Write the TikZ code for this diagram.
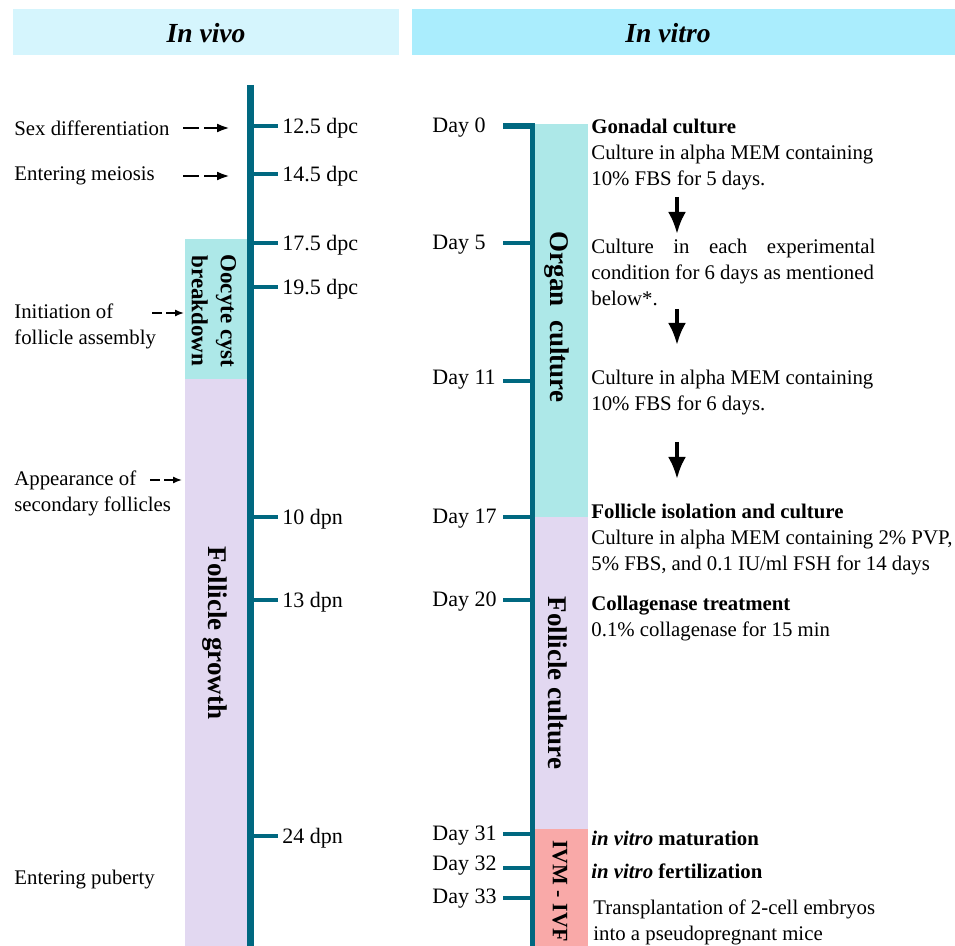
\documentclass[tikz,border=0pt]{standalone}
\usepackage{fontspec}
\setmainfont{Liberation Serif}
\usetikzlibrary{arrows.meta}
\definecolor{axisteal}{RGB}{0,104,128}
\definecolor{hdrvivo}{RGB}{213,245,253}
\definecolor{hdrvitro}{RGB}{170,237,253}
\definecolor{barcyan}{RGB}{173,232,232}
\definecolor{barlav}{RGB}{226,216,241}
\definecolor{barpink}{RGB}{249,169,168}

\begin{document}
\begin{tikzpicture}[x=0.5pt, y=-0.5pt,
    every node/.style={font=\fontsize{10.4}{13}\selectfont, inner sep=0pt, yshift=-1pt},
    marklabel/.style={anchor=west, font=\fontsize{11}{13}\selectfont},
    hdr/.style={font=\fontsize{13.8}{16}\selectfont\bfseries\itshape},
    barlabel/.style={rotate=-90, font=\fontsize{13.5}{16}\selectfont\bfseries},
    smallbar/.style={rotate=-90, align=center, font=\fontsize{11.5}{14.5}\selectfont\bfseries},
    axisline/.style={axisteal, line width=3.6pt},
    raxisline/.style={axisteal, line width=2.6pt, line join=miter},
    tickline/.style={axisteal, line width=2.4pt},
    bigdash/.style={line width=1.3pt, dash pattern=on 8pt off 2.5pt, -{Latex[length=6.5pt, width=4.5pt]}},
    smalldash/.style={line width=0.7pt, dash pattern=on 5pt off 2pt, -{Latex[length=4.5pt, width=3.5pt]}},
    downarrow/.style={line width=2pt, -{Latex[length=11pt, width=9pt]}}]
  \useasboundingbox (0,0) rectangle (955,946);

  % headers
  \fill[hdrvivo] (13,9) rectangle (399,55);
  \fill[hdrvitro] (412,9) rectangle (955,55);
  \node[hdr] (vivo) at (206,31) {In vivo};
  \node[hdr] (vitro) at (668,31) {In vitro};

  % in vivo bars and axis
  \fill[barcyan] (185,239) rectangle (247,379);
  \fill[barlav] (185,379) rectangle (247,946);
  \node[smallbar] (cyst) at (214,309) {Oocyte cyst\\breakdown};
  \node[barlabel] (growth) at (215,631) {Follicle growth};
  \draw[axisline] (250.5,85) -- (250.5,946);

  \node[marklabel, inner sep=2pt] (dpc125) at (278,126) {12.5 dpc};
  \node[marklabel, inner sep=2pt] (dpc145) at (278,174) {14.5 dpc};
  \node[marklabel, inner sep=2pt] (dpc175) at (278,243) {17.5 dpc};
  \node[marklabel, inner sep=2pt] (dpc195) at (278,287) {19.5 dpc};
  \node[marklabel, inner sep=2pt] (dpn10) at (278,517) {10 dpn};
  \node[marklabel, inner sep=2pt] (dpn13) at (278,600) {13 dpn};
  \node[marklabel, inner sep=2pt] (dpn24) at (278,836) {24 dpn};
  \draw[tickline] (250.5,126) -- (dpc125.west |- 0,126);
  \draw[tickline] (250.5,174) -- (dpc145.west |- 0,174);
  \draw[tickline] (250.5,243) -- (dpc175.west |- 0,243);
  \draw[tickline] (250.5,287) -- (dpc195.west |- 0,287);
  \draw[tickline] (250.5,517) -- (dpn10.west |- 0,517);
  \draw[tickline] (250.5,600) -- (dpn13.west |- 0,600);
  \draw[tickline] (250.5,836) -- (dpn24.west |- 0,836);

  % in vivo events
  \node[anchor=west] (sexdiff) at (14,126) {Sex differentiation};
  \node[anchor=west] (meiosis) at (14,174) {Entering meiosis};
  \node[anchor=west, align=left] (assembly) at (14,324) {Initiation of\\follicle assembly};
  \node[anchor=west, align=left] (secondary) at (14,491) {Appearance of\\secondary follicles};
  \node[anchor=west] (puberty) at (14,878) {Entering puberty};
  \coordinate (sexA) at (183,126);
  \coordinate (sexB) at (230,126);
  \coordinate (meiA) at (183,174);
  \coordinate (meiB) at (230,174);
  \coordinate (assA) at (152,311);
  \coordinate (assB) at (184,311);
  \coordinate (secA) at (150,478);
  \coordinate (secB) at (182,478);
  \draw[bigdash] (sexA) -- (sexB);
  \draw[bigdash] (meiA) -- (meiB);
  \draw[smalldash] (assA) -- (assB);
  \draw[smalldash] (secA) -- (secB);

  % in vitro bars and axis
  \fill[barcyan] (535,124) rectangle (588,517);
  \fill[barlav] (535,517) rectangle (588,829);
  \fill[barpink] (535,829) rectangle (588,946);
  \node[barlabel] (organ) at (557,315) {Organ~~culture};
  \node[barlabel] (fculture) at (558,681) {Follicle culture};
  \node[rotate=-90, font=\fontsize{11}{13}\selectfont\bfseries] (ivm) at (560,889) {IVM - IVF};
  \draw[raxisline] (503,126) -- (532.5,126) -- (532.5,946);
  \draw[tickline] (532.5,243) -- (503,243);
  \draw[tickline] (532.5,381) -- (503,381);
  \draw[tickline] (532.5,517) -- (503,517);
  \draw[tickline] (532.5,600) -- (503,600);
  \draw[tickline] (532.5,834) -- (503,834);
  \draw[tickline] (532.5,868) -- (503,868);
  \draw[tickline] (532.5,898) -- (503,898);

  \node[marklabel] (day0) at (432,126) {Day 0};
  \node[marklabel] (day5) at (432,243) {Day 5};
  \node[marklabel] (day11) at (432,378) {Day 11};
  \node[marklabel] (day17) at (432,517) {Day 17};
  \node[marklabel] (day20) at (432,600) {Day 20};
  \node[marklabel] (day31) at (432,834) {Day 31};
  \node[marklabel] (day32) at (432,864) {Day 32};
  \node[marklabel] (day33) at (432,897) {Day 33};

  % in vitro steps
  \node[anchor=west, align=left] (gonadal) at (591,153)
    {\textbf{Gonadal culture}\\Culture in alpha MEM containing\\10\% FBS for 5 days.};
  \node[anchor=west, align=left] (condition) at (591,270)
    {\makebox[142pt][s]{Culture in each experimental}\\condition for 6 days as mentioned\\below*.};
  \node[anchor=west, align=left] (alpha) at (591,391)
    {Culture in alpha MEM containing\\10\% FBS for 6 days.};
  \node[anchor=west, align=left] (isolation) at (591,538)
    {\textbf{Follicle isolation and culture}\\Culture in alpha MEM containing 2\% PVP,\\5\% FBS, and 0.1 IU/ml FSH for 14 days};
  \node[anchor=west, align=left] (collagenase) at (591,617)
    {\textbf{Collagenase treatment}\\0.1\% collagenase for 15 min};
  \node[anchor=west] (ivmtext) at (591,836) {\textbf{\textit{in vitro} maturation}};
  \node[anchor=west] (ivftext) at (591,869) {\textbf{\textit{in vitro} fertilization}};
  \node[anchor=west, align=left] (transfer) at (593,920)
    {Transplantation of 2-cell embryos\\into a pseudopregnant mice};
  \coordinate (arr1A) at (677,195);
  \coordinate (arr1B) at (677,232);
  \coordinate (arr2A) at (677,307);
  \coordinate (arr2B) at (677,343);
  \coordinate (arr3A) at (677,440);
  \coordinate (arr3B) at (677,477);
  \draw[downarrow] (arr1A) -- (arr1B);
  \draw[downarrow] (arr2A) -- (arr2B);
  \draw[downarrow] (arr3A) -- (arr3B);
\end{tikzpicture}
\end{document}
